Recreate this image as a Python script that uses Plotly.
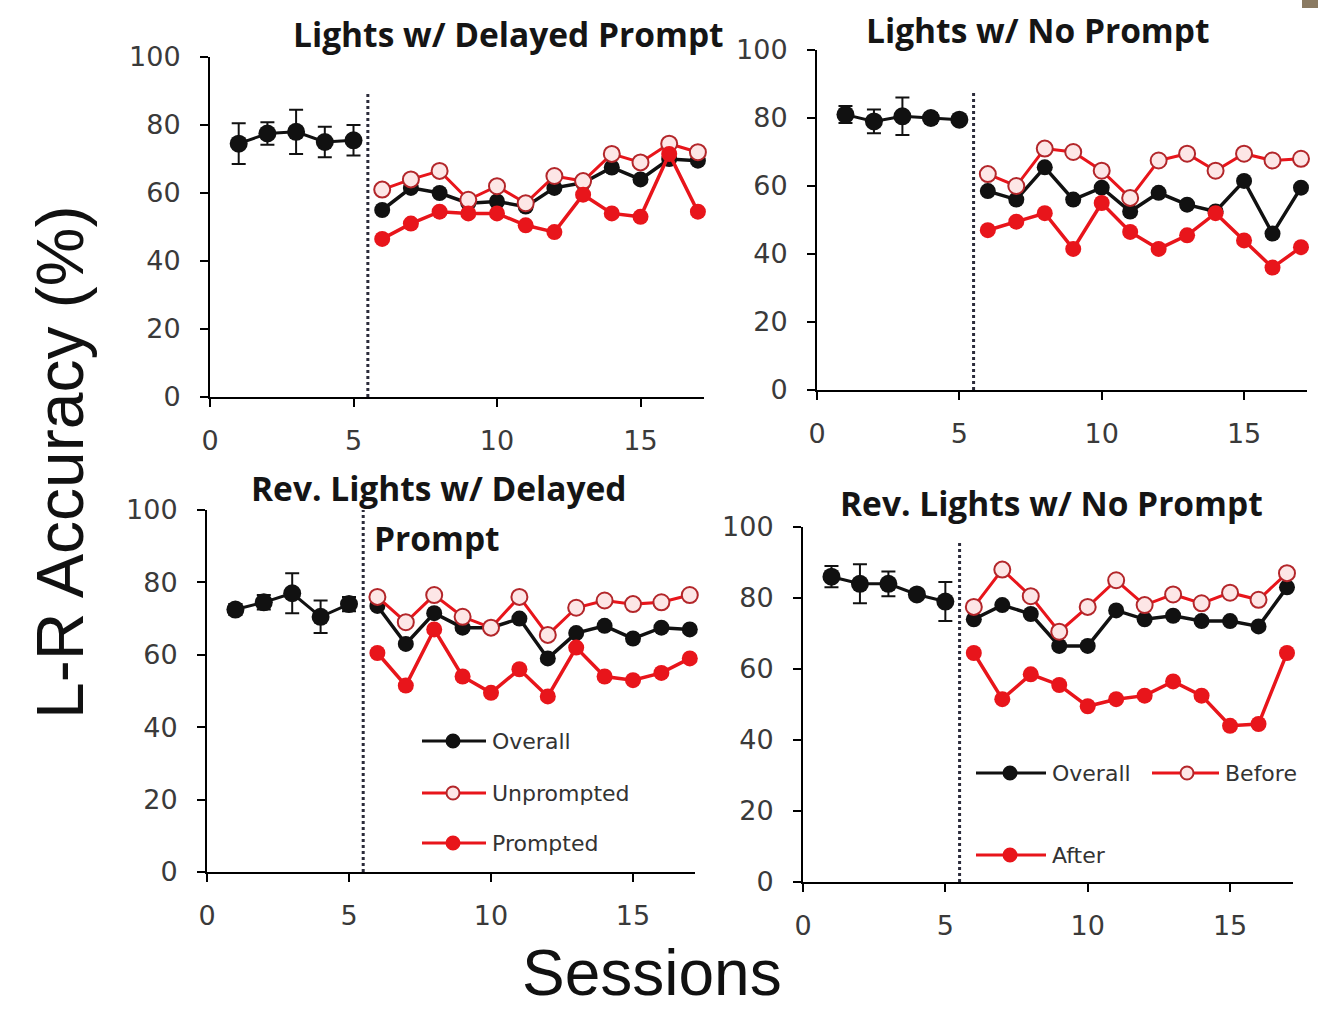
import plotly.graph_objects as go

# ---------------- data ----------------
sessions_base = [1, 2, 3, 4, 5]
sessions_post = [6, 7, 8, 9, 10, 11, 12, 13, 14, 15, 16, 17]
phase_boundary = 5.5
x_ticks = [0, 5, 10, 15]
y_ticks = [0, 20, 40, 60, 80, 100]

# Panel A: Lights w/ Delayed Prompt
a_base = [74.5, 77.5, 78, 75, 75.5]
a_base_err = [6, 3.3, 6.5, 4.5, 4.5]
a_overall = [55, 61.5, 60, 57, 57.5, 56, 61.5, 63, 67.5, 64, 70, 69.5]
a_unprompted = [61, 64, 66.5, 58, 62, 57, 65, 63.5, 71.5, 69, 74.5, 72]
a_prompted = [46.5, 51, 54.5, 54, 54, 50.5, 48.5, 59.5, 54, 53, 71.5, 54.5]

# Panel B: Lights w/ No Prompt
b_base = [81, 79, 80.5, 80, 79.5]
b_base_err = [2.5, 3.5, 5.5, 1.5, 1]
b_overall = [58.5, 56, 65.5, 56, 59.5, 52.5, 58, 54.5, 52.5, 61.5, 46, 59.5]
b_before = [63.5, 60, 71, 70, 64.5, 56.5, 67.5, 69.5, 64.5, 69.5, 67.5, 68]
b_after = [47, 49.5, 52, 41.5, 55, 46.5, 41.5, 45.5, 52, 44, 36, 42]

# Panel C: Rev. Lights w/ Delayed Prompt
c_base = [72.5, 74.5, 77, 70.5, 74]
c_base_err = [1.5, 2, 5.5, 4.5, 2]
c_overall = [73.5, 63, 71.5, 67.5, 67.5, 70, 59, 66, 68, 64.5, 67.5, 67]
c_unprompted = [76, 69, 76.5, 70.5, 67.5, 76, 65.5, 73, 75, 74, 74.5, 76.5]
c_prompted = [60.5, 51.5, 67, 54, 49.5, 56, 48.5, 62, 54, 53, 55, 59]

# Panel D: Rev. Lights w/ No Prompt
d_base = [86, 84, 84, 81, 79]
d_base_err = [3, 5.5, 3.5, 1, 5.5]
d_overall = [74, 78, 75.5, 66.5, 66.5, 76.5, 74, 75, 73.5, 73.5, 72, 83]
d_before = [77.5, 88, 80.5, 70.5, 77.5, 85, 78, 81, 78.5, 81.5, 79.5, 87]
d_after = [64.5, 51.5, 58.5, 55.5, 49.5, 51.5, 52.5, 56.5, 52.5, 44, 44.5, 64.5]

titles = ["Lights w/ Delayed Prompt", "Lights w/ No Prompt",
          "Rev. Lights w/ Delayed", "Prompt", "Rev. Lights w/ No Prompt"]
legend_c = ["Overall", "Unprompted", "Prompted"]
legend_d = ["Overall", "Before", "After"]
y_title = "L-R Accuracy (%)"
x_title = "Sessions"

# ---------------- layout geometry (pixels) ----------------
W, H = 1318, 1010
X_MAX = 17.2


def fx(px):
    return px / W


def fy(py):
    return 1 - py / H


# (left px of y axis, px per session, top px (100), bottom px (0), dotted top value)
panels = [
    dict(x0=210, ppu=28.7, ytop=57, ybot=397, dot_top=90),
    dict(x0=817, ppu=28.47, ytop=50, ybot=390, dot_top=88),
    dict(x0=207, ppu=28.4, ytop=510, ybot=872, dot_top=100),
    dict(x0=803, ppu=28.47, ytop=527, ybot=882, dot_top=96),
]

series = [
    (a_base, a_base_err, a_overall, a_unprompted, a_prompted),
    (b_base, b_base_err, b_overall, b_before, b_after),
    (c_base, c_base_err, c_overall, c_unprompted, c_prompted),
    (d_base, d_base_err, d_overall, d_before, d_after),
]

BLACK = "#111111"
RED = "#e8151b"
OPEN_FILL = "#fde6e6"
OPEN_LINE = "#b3262a"
TICK_FONT = dict(family="DejaVu Sans", size=27, color="#3a3a3a")

fig = go.Figure()
layout = dict(width=W, height=H,
              margin=dict(l=0, r=0, t=0, b=0, pad=0, autoexpand=False),
              paper_bgcolor="white", plot_bgcolor="rgba(0,0,0,0)",
              showlegend=False, shapes=[], annotations=[])

for i, (p, s) in enumerate(zip(panels, series)):
    n = "" if i == 0 else str(i + 1)
    xa, ya = "x" + n, "y" + n
    base, err, overall, light, dark = s
    x_right = p["x0"] + X_MAX * p["ppu"]
    layout["xaxis" + n] = dict(
        domain=[fx(p["x0"]), fx(x_right)], anchor=ya, range=[0, X_MAX],
        tickvals=x_ticks, showline=True, linecolor="black", linewidth=2,
        ticks="outside", ticklen=8, tickwidth=2, tickcolor="black",
        tickfont=TICK_FONT, showgrid=False, zeroline=False,
        ticklabelstandoff=11, automargin=False)
    layout["yaxis" + n] = dict(
        domain=[fy(p["ybot"]), fy(p["ytop"])], anchor=xa, range=[0, 100],
        tickvals=y_ticks, showline=True, linecolor="black", linewidth=2,
        ticks="outside", ticklen=8, tickwidth=2, tickcolor="black",
        tickfont=TICK_FONT, showgrid=False, zeroline=False,
        ticklabelstandoff=14, automargin=False)

    # dotted phase-change line
    fig.add_trace(go.Scatter(
        x=[phase_boundary, phase_boundary], y=[0, p["dot_top"]],
        mode="lines", line=dict(color="#2b2b3a", width=3, dash="dot"),
        xaxis=xa, yaxis=ya, hoverinfo="skip"))

    # baseline with error bars
    fig.add_trace(go.Scatter(
        x=sessions_base, y=base, mode="lines+markers",
        line=dict(color=BLACK, width=3),
        marker=dict(color=BLACK, size=18),
        error_y=dict(type="data", array=err, color=BLACK, thickness=2, width=7),
        xaxis=xa, yaxis=ya, cliponaxis=False))
    # overall
    fig.add_trace(go.Scatter(
        x=sessions_post, y=overall, mode="lines+markers",
        line=dict(color=BLACK, width=3.5),
        marker=dict(color=BLACK, size=16),
        xaxis=xa, yaxis=ya, cliponaxis=False))
    # unprompted / before (open)
    fig.add_trace(go.Scatter(
        x=sessions_post, y=light, mode="lines+markers",
        line=dict(color=RED, width=3),
        marker=dict(color=OPEN_FILL, size=16,
                    line=dict(color=OPEN_LINE, width=2)),
        xaxis=xa, yaxis=ya, cliponaxis=False))
    # prompted / after (filled red)
    fig.add_trace(go.Scatter(
        x=sessions_post, y=dark, mode="lines+markers",
        line=dict(color=RED, width=3.5),
        marker=dict(color=RED, size=16),
        xaxis=xa, yaxis=ya, cliponaxis=False))

# panel titles
TITLE_FONT = dict(family="Open Sans", size=33.5, color="#151515", weight="bold")
title_pos = [(508, 34), (1038, 30), (439, 488), (437, 538), (1051, 503)]
for t, (px, py) in zip(titles, title_pos):
    layout["annotations"].append(dict(
        text="<b>%s</b>" % t, x=fx(px), y=fy(py), xref="paper", yref="paper",
        xanchor="center", yanchor="middle", showarrow=False, font=TITLE_FONT))

# axis titles
layout["annotations"].append(dict(
    text=y_title, x=fx(60), y=fy(463), xref="paper", yref="paper",
    xanchor="center", yanchor="middle", showarrow=False, textangle=-90,
    font=dict(family="Liberation Sans", size=66, color="#111111")))
layout["annotations"].append(dict(
    text=x_title, x=fx(652), y=0, xref="paper", yref="paper",
    xanchor="center", yanchor="bottom", showarrow=False, borderpad=0,
    font=dict(family="Liberation Sans", size=64, color="#111111")))

# hand-drawn legends (line + marker + text)
LEG_FONT = dict(family="DejaVu Sans", size=22, color="#333333")
styles = [
    dict(line=BLACK, fill=BLACK, edge=BLACK),
    dict(line=RED, fill=OPEN_FILL, edge=OPEN_LINE),
    dict(line=RED, fill=RED, edge=RED),
]
legend_items = [
    (legend_c[0], styles[0], 422, 486, 453, 741),
    (legend_c[1], styles[1], 422, 486, 453, 793),
    (legend_c[2], styles[2], 422, 486, 453, 843),
    (legend_d[0], styles[0], 976, 1046, 1010, 773),
    (legend_d[1], styles[1], 1152, 1219, 1187, 773),
    (legend_d[2], styles[2], 976, 1046, 1010, 855),
]
r = 6.5
for label, st, lx0, lx1, mx, ly in legend_items:
    layout["shapes"].append(dict(
        type="line", xref="paper", yref="paper", x0=fx(lx0), x1=fx(lx1),
        y0=fy(ly), y1=fy(ly), line=dict(color=st["line"], width=3)))
    layout["shapes"].append(dict(
        type="circle", xref="paper", yref="paper", x0=fx(mx - r), x1=fx(mx + r),
        y0=fy(ly + r), y1=fy(ly - r), fillcolor=st["fill"],
        line=dict(color=st["edge"], width=2)))
    layout["annotations"].append(dict(
        text=label, x=fx(lx1 + 4), y=fy(ly), xref="paper", yref="paper",
        xanchor="left", yanchor="middle", showarrow=False, font=LEG_FONT))

# small corner artefact of the original picture
layout["shapes"].append(dict(
    type="rect", xref="paper", yref="paper", x0=fx(1302), x1=1, y0=fy(8), y1=1,
    fillcolor="#8a7a62", line=dict(width=0)))

fig.update_layout(**layout)
fig.write_html("out.html", config={"displayModeBar": False},
               post_script="document.body.style.margin='0';")
